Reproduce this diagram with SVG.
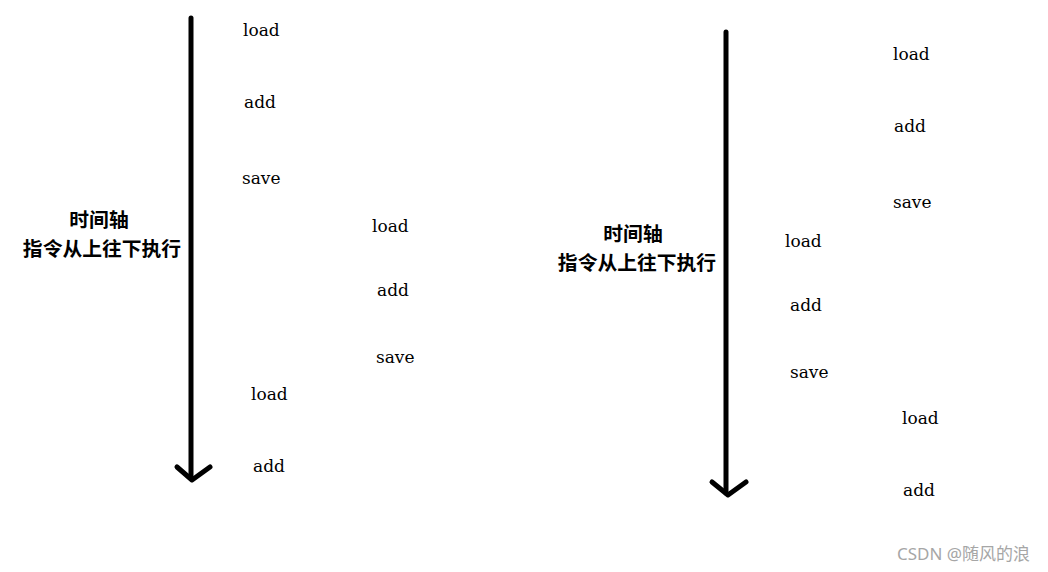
<svg xmlns="http://www.w3.org/2000/svg" width="1048" height="572" viewBox="0 0 1048 572">
<style>
.op{font-family:"DejaVu Serif","Liberation Serif",serif;font-size:17px;fill:#000}
.cn{font-family:"Noto Sans CJK SC","Noto Sans",sans-serif;font-size:19.8px;font-weight:bold;fill:#000;text-anchor:middle}
.ax{stroke:#000;stroke-width:5;fill:none;stroke-linecap:round;stroke-linejoin:round}
.wm{font-family:"Noto Sans","Noto Sans CJK SC",sans-serif;font-size:17px;fill:#a6a6a6}
</style>
<rect width="1048" height="572" fill="#fff"/>
<g id="connectors">
<path class="ax" d="M191,18 V478"/>
<path class="ax" d="M177,467 L192,480 L210,467"/>
<path class="ax" d="M726,32 V493"/>
<path class="ax" d="M712,482 L728,495 L746,482"/>
</g>
<g id="left-label"><text class="cn" x="99" y="227">时间轴</text><text class="cn" x="102" y="256">指令从上往下执行</text></g>
<g id="right-label"><text class="cn" x="633" y="241">时间轴</text><text class="cn" x="637" y="270">指令从上往下执行</text></g>
<g id="left-t1"><text class="op" x="243" y="36">load</text><text class="op" x="244" y="108">add</text><text class="op" x="242" y="184">save</text></g>
<g id="left-t2"><text class="op" x="372" y="232">load</text><text class="op" x="377" y="296">add</text><text class="op" x="376" y="363">save</text></g>
<g id="left-t3"><text class="op" x="251" y="400">load</text><text class="op" x="253" y="472">add</text></g>
<g id="right-t1"><text class="op" x="893" y="60">load</text><text class="op" x="894" y="132">add</text><text class="op" x="893" y="208">save</text></g>
<g id="right-t2"><text class="op" x="785" y="247">load</text><text class="op" x="790" y="311">add</text><text class="op" x="790" y="378">save</text></g>
<g id="right-t3"><text class="op" x="902" y="424">load</text><text class="op" x="903" y="496">add</text></g>
<text class="wm" x="897" y="560">CSDN @随风的浪</text>
</svg>
